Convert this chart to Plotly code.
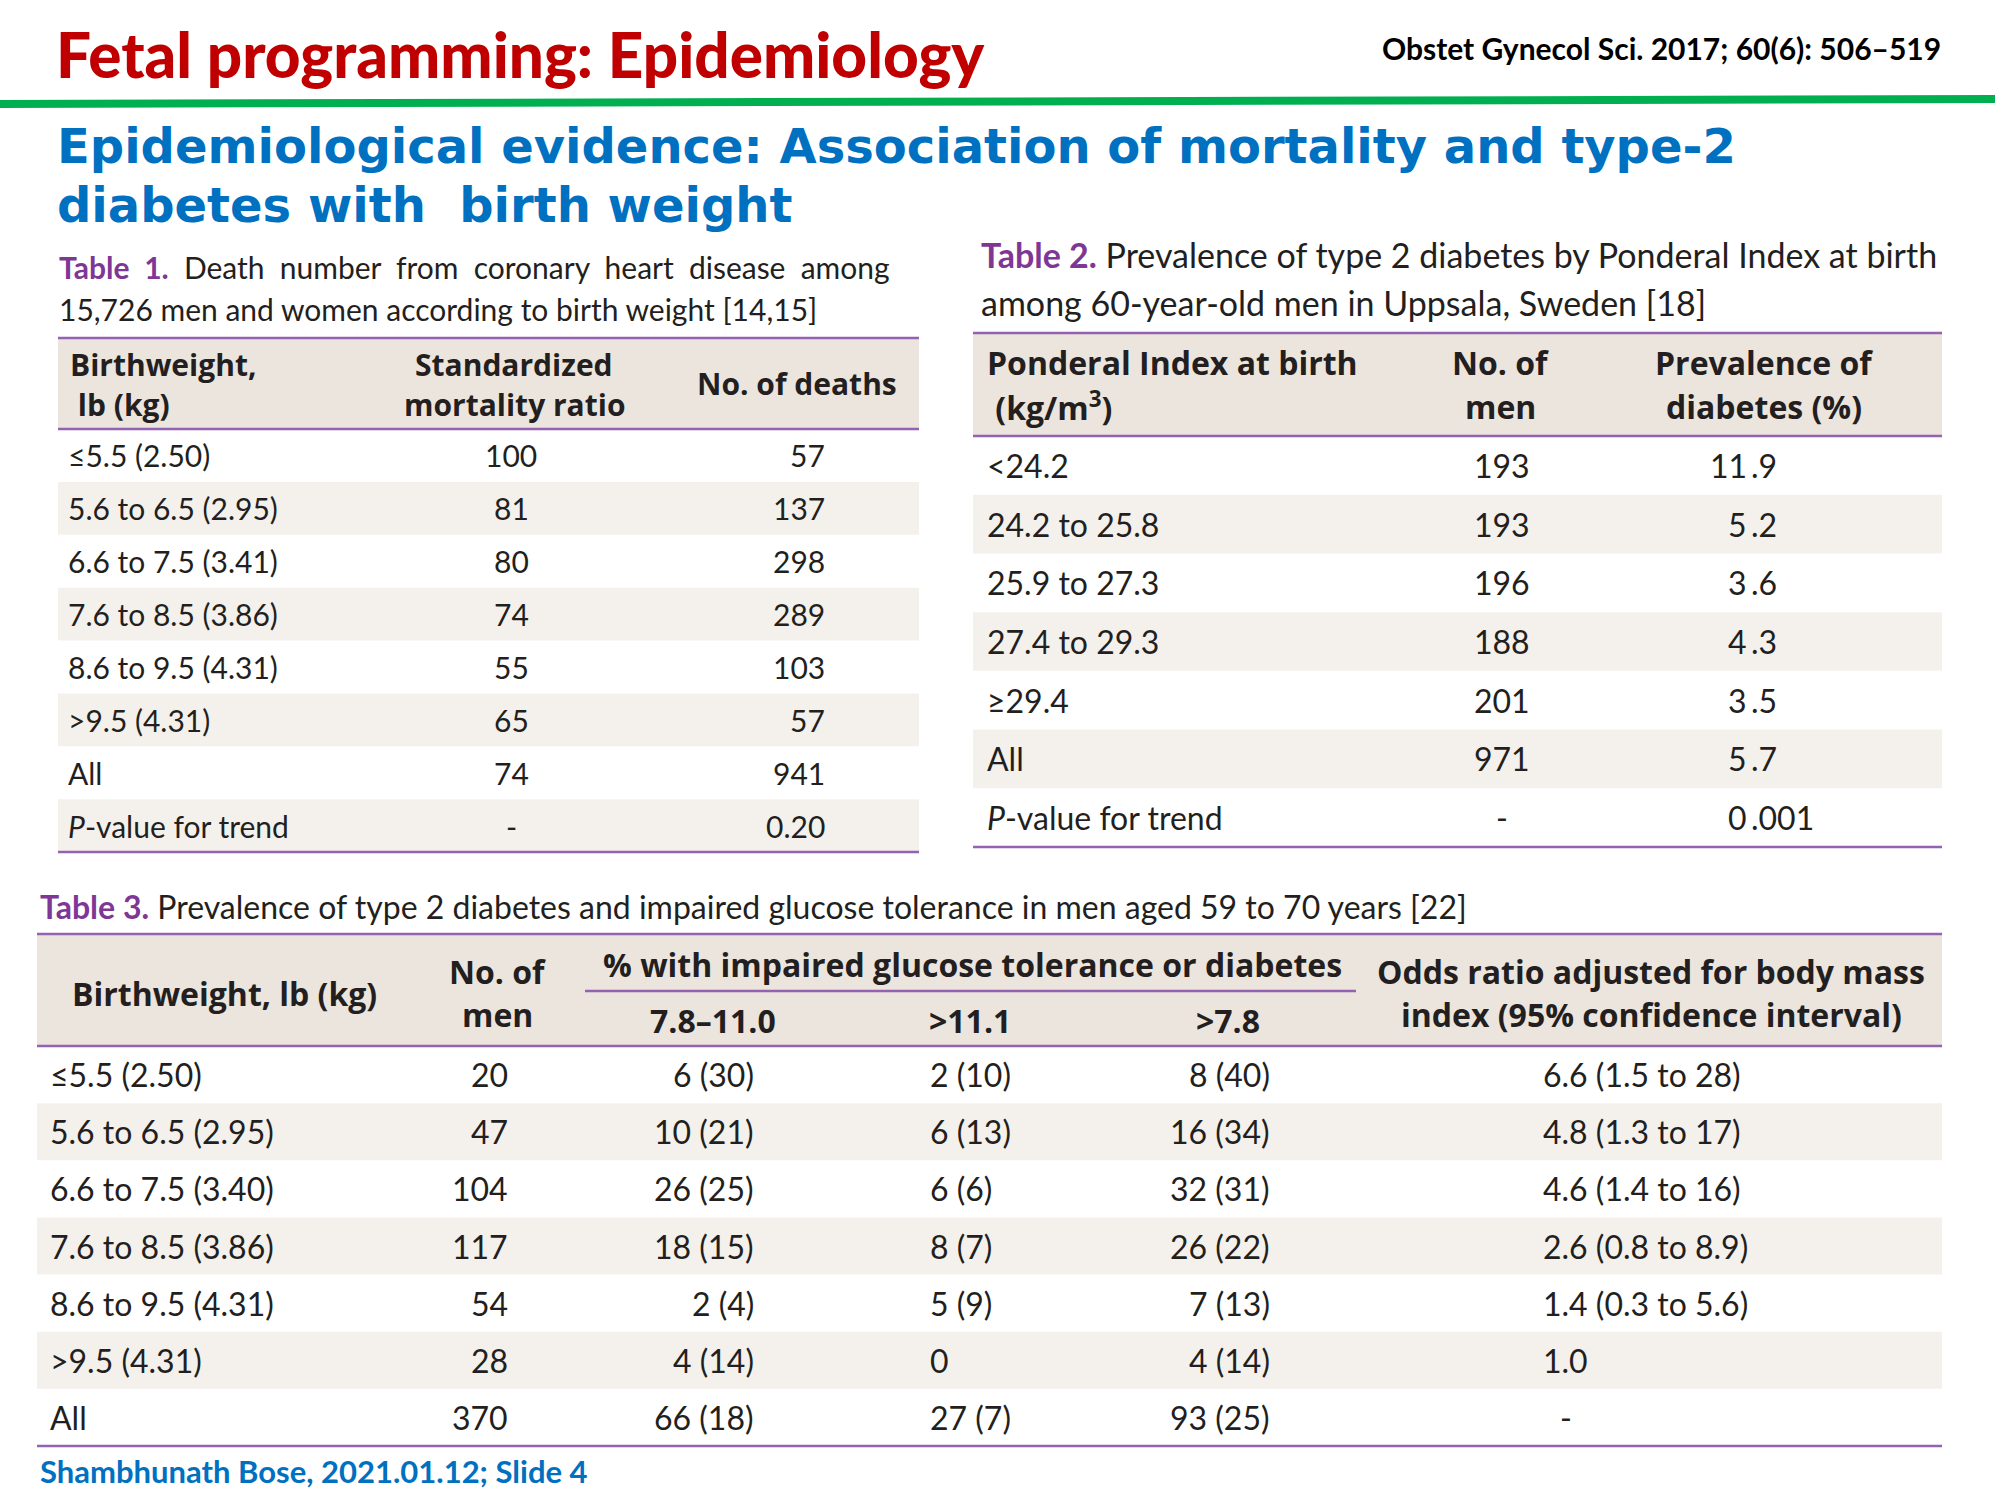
import plotly.graph_objects as go

# ---- data ----
t1_weights = ["≤5.5 (2.50)", "5.6 to 6.5 (2.95)", "6.6 to 7.5 (3.41)", "7.6 to 8.5 (3.86)",
              "8.6 to 9.5 (4.31)", "&gt;9.5 (4.31)", "All", "<i>P</i>-value for trend"]
t1_smr = ["100", "81", "80", "74", "55", "65", "74", "-"]
t1_deaths = ["57", "137", "298", "289", "103", "57", "941", "0.20"]

t2_index = ["&lt;24.2", "24.2 to 25.8", "25.9 to 27.3", "27.4 to 29.3", "≥29.4", "All",
            "<i>P</i>-value for trend"]
t2_men = ["193", "193", "196", "188", "201", "971", "-"]
t2_prev = ["11.9", "5.2", "3.6", "4.3", "3.5", "5.7", "0.001"]

t3_weights = ["≤5.5 (2.50)", "5.6 to 6.5 (2.95)", "6.6 to 7.5 (3.40)", "7.6 to 8.5 (3.86)",
              "8.6 to 9.5 (4.31)", "&gt;9.5 (4.31)", "All"]
t3_men = ["20", "47", "104", "117", "54", "28", "370"]
t3_igt_78_110 = ["6 (30)", "10 (21)", "26 (25)", "18 (15)", "2 (4)", "4 (14)", "66 (18)"]
t3_igt_111 = ["2 (10)", "6 (13)", "6 (6)", "8 (7)", "5 (9)", "0", "27 (7)"]
t3_igt_78 = ["8 (40)", "16 (34)", "32 (31)", "26 (22)", "7 (13)", "4 (14)", "93 (25)"]
t3_odds = ["6.6 (1.5 to 28)", "4.8 (1.3 to 17)", "4.6 (1.4 to 16)", "2.6 (0.8 to 8.9)",
           "1.4 (0.3 to 5.6)", "1.0", "-"]

# ---- styles ----
INK = "#231F20"
PURPLE = "#7E3794"
LINE = "#9362B0"
HEAD_BG = "#ECE5DD"
STRIPE = "#F4F1EC"
BODY = "Lato, sans-serif"
HEAD = "Open Sans, Lato, sans-serif"

fig = go.Figure()
annotations = []
shapes = []


def text(x, y, s, size, family=BODY, color=INK, anchor="left", bold=False, weight=None):
    annotations.append(dict(
        x=x, y=y, xref="x", yref="y", text=s, showarrow=False,
        xanchor=anchor, yanchor="middle", align=anchor,
        font=dict(size=size, family=family, color=color,
                  weight=weight if weight else ("bold" if bold else "normal")),
    ))


def rect(x0, y0, x1, y1, color):
    shapes.append(dict(type="rect", x0=x0, y0=y0, x1=x1, y1=y1, xref="x", yref="y",
                       fillcolor=color, line=dict(width=0), layer="below"))


def hline(x0, x1, y, color=LINE, width=2.5):
    shapes.append(dict(type="line", x0=x0, x1=x1, y0=y, y1=y, xref="x", yref="y",
                       line=dict(color=color, width=width)))


def caption(x, y, label, rest, size, gap=" "):
    label = label.replace(" ", gap)
    rest = rest.replace(" ", gap)
    text(x, y, f"<span style='color:{PURPLE}'><b>{label}</b></span>{gap}{rest}", size)


def body(x0, x1, top, row_h, rows, header_top):
    rect(x0, header_top, x1, top, HEAD_BG)
    for i in range(rows):
        if i % 2 == 1:
            rect(x0, top + i * row_h, x1, top + (i + 1) * row_h, STRIPE)
    hline(x0, x1, header_top)
    hline(x0, x1, top)
    hline(x0, x1, top + rows * row_h)


# ---- slide header ----
text(54, 54, "Fetal programming: Epidemiology", 62, "Lato", "#C00000", weight=900)
text(1943, 48, "Obstet Gynecol Sci. 2017; 60(6): 506–519", 30, "Lato", "#000000", "right", bold=True)
shapes.append(dict(type="line", x0=0, x1=1995, y0=104, y1=99, xref="x", yref="y",
                   line=dict(color="#00B050", width=8)))
text(55, 146, "Epidemiological evidence: Association of mortality and type-2", 48,
     "DejaVu Sans, sans-serif", "#0070C0", bold=True)
text(55, 205, "diabetes with  birth weight", 48, "DejaVu Sans, sans-serif", "#0070C0", bold=True)

# ---- table 1 ----
caption(57, 267, "Table 1.", "Death number from coronary heart disease among", 30,
        gap=" \u2009\u2009")
text(57, 309, "15,726 men and women according to birth weight [14,15]", 30)
t1_top, t1_row = 429, (852 - 429) / len(t1_weights)
body(58, 919, t1_top, t1_row, len(t1_weights), 338)
text(68, 364, "Birthweight,", 30, HEAD, bold=True)
text(68, 404, "\u00a0lb (kg)", 30, HEAD, bold=True)
text(514, 364, "Standardized", 30, HEAD, anchor="center", bold=True)
text(514, 404, "mortality ratio", 30, HEAD, anchor="center", bold=True)
text(797, 383, "No. of deaths", 30, HEAD, anchor="center", bold=True)
for i in range(len(t1_weights)):
    yc = t1_top + (i + 0.5) * t1_row
    text(66, yc, t1_weights[i], 30)
    text(511, yc, t1_smr[i], 30, anchor="center")
    text(827, yc, t1_deaths[i], 30, anchor="right")

# ---- table 2 ----
caption(979, 254, "Table 2.", "Prevalence of type 2 diabetes by Ponderal Index at birth", 34)
text(979, 302, "among 60-year-old men in Uppsala, Sweden [18]", 34)
t2_top, t2_row = 436, (847 - 436) / len(t2_index)
body(973, 1942, t2_top, t2_row, len(t2_index), 333)
text(985, 362, "Ponderal Index at birth", 32, HEAD, bold=True)
text(985, 406, "\u00a0(kg/m<sup>3</sup>)", 32, HEAD, bold=True)
text(1500, 362, "No. of", 32, HEAD, anchor="center", bold=True)
text(1500, 406, "men", 32, HEAD, anchor="center", bold=True)
text(1764, 362, "Prevalence of", 32, HEAD, anchor="center", bold=True)
text(1764, 406, "diabetes (%)", 32, HEAD, anchor="center", bold=True)
for i in range(len(t2_index)):
    yc = t2_top + (i + 0.5) * t2_row
    text(985, yc, t2_index[i], 32)
    text(1502, yc, t2_men[i], 32, anchor="center")
    whole, frac = t2_prev[i].split(".")
    text(1749, yc, whole, 32, anchor="right")
    text(1749, yc, "." + frac, 32, anchor="left")

# ---- table 3 ----
caption(38, 906, "Table 3.", "Prevalence of type 2 diabetes and impaired glucose tolerance in men aged 59 to 70 years [22]", 32)
t3_top, t3_row = 1046, (1446 - 1046) / len(t3_weights)
body(37, 1942, t3_top, t3_row, len(t3_weights), 934)
text(224, 993, "Birthweight, lb (kg)", 32, HEAD, anchor="center", bold=True)
text(497, 971, "No. of", 32, HEAD, anchor="center", bold=True)
text(497, 1014, "men", 32, HEAD, anchor="center", bold=True)
text(972, 964, "% with impaired glucose tolerance or diabetes", 32, HEAD, anchor="center", bold=True)
hline(585, 1356, 991)
text(713, 1020, "7.8–11.0", 32, HEAD, anchor="center", bold=True)
text(970, 1020, "&gt;11.1", 32, HEAD, anchor="center", bold=True)
text(1228, 1020, "&gt;7.8", 32, HEAD, anchor="center", bold=True)
text(1651, 971, "Odds ratio adjusted for body mass", 32, HEAD, anchor="center", bold=True)
text(1651, 1014, "index (95% confidence interval)", 32, HEAD, anchor="center", bold=True)
for i in range(len(t3_weights)):
    yc = t3_top + (i + 0.5) * t3_row
    text(48, yc, t3_weights[i], 32)
    text(510, yc, t3_men[i], 32, anchor="right")
    text(756, yc, t3_igt_78_110[i], 32, anchor="right")
    text(928, yc, t3_igt_111[i], 32)
    text(1272, yc, t3_igt_78[i], 32, anchor="right")
    if t3_odds[i] == "-":
        text(1566, yc, t3_odds[i], 32, anchor="center")
    else:
        text(1541, yc, t3_odds[i], 32)

# ---- footer ----
text(38, 1471, "Shambhunath Bose, 2021.01.12; Slide 4", 31, "Lato", "#0070C0", bold=True)

fig.update_layout(
    width=2000, height=1500, margin=dict(l=0, r=0, t=0, b=0),
    paper_bgcolor="white", plot_bgcolor="white", showlegend=False,
    xaxis=dict(range=[0, 2000], visible=False, fixedrange=True),
    yaxis=dict(range=[1500, 0], visible=False, fixedrange=True),
    annotations=annotations, shapes=shapes,
)

fig.write_html("out.html", config={"displayModeBar": False},
               post_script="document.body.style.margin='0';")
